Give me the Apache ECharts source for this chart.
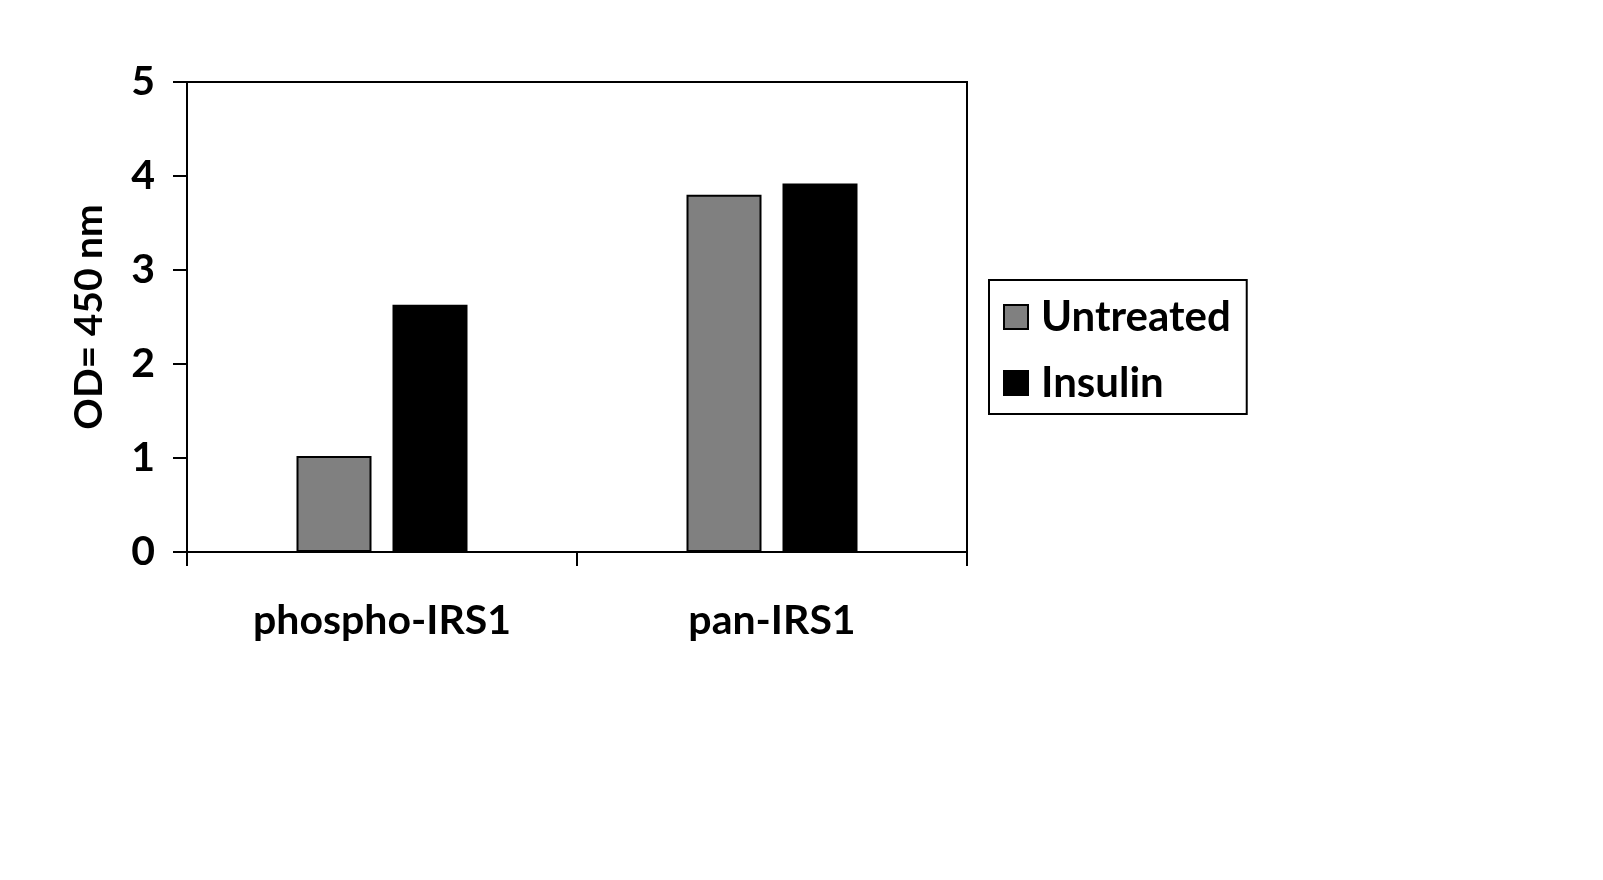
<!DOCTYPE html>
<html>
<head>
<meta charset="utf-8">
<script src="https://cdn.jsdelivr.net/npm/echarts@6/dist/echarts.min.js"></script>
<style>
html,body{margin:0;padding:0;background:#fff;}
#main{width:1603px;height:880px;}
</style>
</head>
<body>
<div id="main"></div>
<script>
var categories = ['phospho-IRS1', 'pan-IRS1'];
var seriesNames = ['Untreated', 'Insulin'];
var untreated = [1.02, 3.80];
var insulin = [2.63, 3.92];
var yTicks = [0, 1, 2, 3, 4, 5];

var FONT = 'Lato';
var chart = echarts.init(document.getElementById('main'));
chart.setOption({
  backgroundColor: '#ffffff',
  animation: false,
  grid: {
    left: 187, top: 82, width: 780, height: 470,
    show: true, borderColor: '#000', borderWidth: 2, backgroundColor: 'transparent'
  },
  legend: {
    orient: 'vertical',
    left: 989, top: 280,
    data: seriesNames,
    icon: 'rect',
    itemWidth: 24, itemHeight: 24, itemGap: 24,
    padding: [16, 16, 10, 14],
    borderColor: '#000', borderWidth: 2,
    textStyle: { fontFamily: FONT, fontWeight: 'bold', fontSize: 42, color: '#000', padding: [0, 0, 0, 8] }
  },
  xAxis: {
    type: 'category',
    data: categories,
    axisLine: { lineStyle: { color: '#000', width: 2 } },
    axisTick: { show: true, length: 14, lineStyle: { color: '#000', width: 2 } },
    axisLabel: { margin: 48, fontFamily: FONT, fontWeight: 'bold', fontSize: 41, color: '#000' },
    splitLine: { show: false }
  },
  yAxis: {
    type: 'value',
    min: yTicks[0], max: yTicks[yTicks.length - 1], interval: 1,
    name: 'OD= 450 nm',
    nameLocation: 'middle',
    nameGap: 78,
    nameTextStyle: { fontFamily: FONT, fontWeight: 'bold', fontSize: 39, color: '#000' },
    axisLine: { show: true, lineStyle: { color: '#000', width: 2 } },
    axisTick: { show: true, length: 14, lineStyle: { color: '#000', width: 2 } },
    axisLabel: { margin: 32, fontFamily: FONT, fontWeight: 'bold', fontSize: 41, color: '#000' },
    splitLine: { show: false }
  },
  series: [
    {
      name: seriesNames[0], type: 'bar', data: untreated,
      barWidth: 75, barGap: '28%',
      itemStyle: { color: '#808080', borderColor: '#000', borderWidth: 2 }
    },
    {
      name: seriesNames[1], type: 'bar', data: insulin,
      barWidth: 75, barGap: '28%',
      itemStyle: { color: '#000000', borderColor: '#000', borderWidth: 2 }
    }
  ]
});
</script>
</body>
</html>
